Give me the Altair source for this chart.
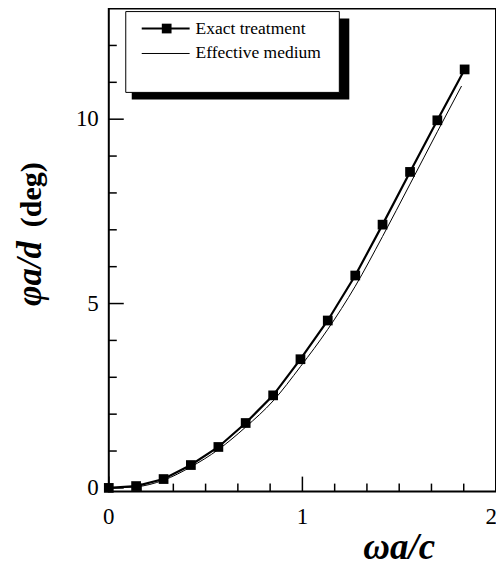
import altair as alt
import pandas as pd

# Data
exact_x = [0.0, 0.141, 0.283, 0.424, 0.566, 0.707, 0.849, 0.990, 1.131, 1.273, 1.414, 1.556, 1.697, 1.838]
exact_y = [0.0, 0.05, 0.24, 0.62, 1.11, 1.76, 2.51, 3.49, 4.54, 5.76, 7.14, 8.57, 9.97, 11.35]
eff_x = [0.0, 0.141, 0.283, 0.424, 0.566, 0.707, 0.849, 0.990, 1.131, 1.273, 1.414, 1.556, 1.697, 1.822]
eff_y = [0.0, 0.03, 0.21, 0.57, 1.04, 1.65, 2.36, 3.29, 4.30, 5.47, 6.82, 8.24, 9.66, 10.90]

x_major = [0, 1, 2]
x_labels = ["0", "1", "2"]
x_minor = [1/6, 2/6, 3/6, 4/6, 5/6, 7/6, 8/6, 9/6, 10/6, 11/6]
y_major = [0, 5, 10]
y_labels = ["0", "5", "10"]
y_minor = [1, 2, 3, 4, 6, 7, 8, 9, 11, 12]

legend_labels = ["Exact treatment", "Effective medium"]

FONT = "Liberation Serif"
W, H = 388, 484

xs = alt.Scale(domain=[0, 2], nice=False, zero=False)
ys = alt.Scale(domain=[-0.1, 13], nice=False, zero=False)

exact = pd.DataFrame({"x": exact_x, "y": exact_y})
eff = pd.DataFrame({"x": eff_x, "y": eff_y})

bx = alt.X("x:Q", scale=xs, axis=None)
by = alt.Y("y:Q", scale=ys, axis=None)

eff_line = alt.Chart(eff).mark_line(color="black", strokeWidth=1, interpolate="monotone").encode(
    x=bx, y=by)
exact_line = alt.Chart(exact).mark_line(color="black", strokeWidth=2.2).encode(x=bx, y=by)
exact_pts = alt.Chart(exact).mark_point(shape="square", filled=True, color="black", size=95, opacity=1).encode(
    x=bx, y=by)

# ticks (inward)
ymaj = alt.Chart(pd.DataFrame({"y": y_major})).mark_rule(color="black", strokeWidth=1.5).encode(
    y=by, x=alt.value(0), x2=alt.value(15))
ymin = alt.Chart(pd.DataFrame({"y": y_minor})).mark_rule(color="black", strokeWidth=1.5).encode(
    y=by, x=alt.value(0), x2=alt.value(8))
xmaj = alt.Chart(pd.DataFrame({"x": x_major})).mark_rule(color="black", strokeWidth=1.5).encode(
    x=bx, y=alt.value(H), y2=alt.value(H - 15))
xmin = alt.Chart(pd.DataFrame({"x": x_minor})).mark_rule(color="black", strokeWidth=1.5).encode(
    x=bx, y=alt.value(H), y2=alt.value(H - 8))

# tick labels (last x label right-aligned so it stays inside the page)
xlab = alt.Chart(pd.DataFrame({"x": x_major[:-1], "t": x_labels[:-1]})).mark_text(
    font=FONT, fontSize=23, align="center", baseline="top", color="black").encode(
    x=bx, y=alt.value(H + 14), text="t:N")
xlab_last = alt.Chart(pd.DataFrame({"x": x_major[-1:], "t": x_labels[-1:]})).mark_text(
    font=FONT, fontSize=23, align="right", baseline="top", color="black", dx=1).encode(
    x=bx, y=alt.value(H + 14), text="t:N")
ylab = alt.Chart(pd.DataFrame({"y": y_major, "t": y_labels})).mark_text(
    font=FONT, fontSize=23, align="right", baseline="middle", color="black").encode(
    y=by, x=alt.value(-10), text="t:N")

# axis titles
xtitle = alt.Chart(pd.DataFrame({"t": ["ωa/c"]})).mark_text(
    font=FONT, fontSize=37, fontWeight="bold", fontStyle="italic", align="center",
    baseline="alphabetic", color="black").encode(
    text="t:N", x=alt.value(291), y=alt.value(H + 68))
ytitle1 = alt.Chart(pd.DataFrame({"t": ["φa/d"]})).mark_text(
    font=FONT, fontSize=35, fontWeight="bold", fontStyle="italic", angle=270, align="left",
    baseline="alphabetic", color="black").encode(
    text="t:N", x=alt.value(-68), y=alt.value(298))
ytitle2 = alt.Chart(pd.DataFrame({"t": ["(deg)"]})).mark_text(
    font=FONT, fontSize=30, fontWeight="bold", angle=270, align="left",
    baseline="alphabetic", color="black").encode(
    text="t:N", x=alt.value(-68), y=alt.value(219))

# legend box with shadow
shadow = alt.Chart(pd.DataFrame({"a": [0]})).mark_rect(color="black").encode(
    x=alt.value(23), x2=alt.value(241), y=alt.value(10), y2=alt.value(91))
box = alt.Chart(pd.DataFrame({"a": [0]})).mark_rect(fill="white", stroke="black", strokeWidth=1).encode(
    x=alt.value(17), x2=alt.value(231), y=alt.value(3), y2=alt.value(84))
leg_l1 = alt.Chart(pd.DataFrame({"a": [0]})).mark_rule(color="black", strokeWidth=2).encode(
    x=alt.value(33), x2=alt.value(81), y=alt.value(20))
leg_p1 = alt.Chart(pd.DataFrame({"a": [0]})).mark_point(shape="square", filled=True, color="black", size=95, opacity=1).encode(
    x=alt.value(58), y=alt.value(20))
leg_l2 = alt.Chart(pd.DataFrame({"a": [0]})).mark_rule(color="black", strokeWidth=1).encode(
    x=alt.value(33), x2=alt.value(81), y=alt.value(45))
leg_t1 = alt.Chart(pd.DataFrame({"t": [legend_labels[0]]})).mark_text(
    font=FONT, fontSize=17.5, align="left", baseline="middle", color="black").encode(
    text="t:N", x=alt.value(87), y=alt.value(20))
leg_t2 = alt.Chart(pd.DataFrame({"t": [legend_labels[1]]})).mark_text(
    font=FONT, fontSize=17.5, align="left", baseline="middle", color="black").encode(
    text="t:N", x=alt.value(87), y=alt.value(45))

chart = alt.layer(
    eff_line, exact_line, exact_pts, ymaj, ymin, xmaj, xmin, xlab, xlab_last, ylab,
    xtitle, ytitle1, ytitle2,
    shadow, box, leg_l1, leg_p1, leg_l2, leg_t1, leg_t2
).properties(
    width=W, height=H,
    autosize=alt.AutoSizeParams(type="none"),
    padding={"left": 101, "top": 0, "right": 0, "bottom": 80},
    background="white",
).configure_view(stroke="black", strokeWidth=2)

chart.save("out.html", embed_options={"renderer": "svg", "actions": False})
